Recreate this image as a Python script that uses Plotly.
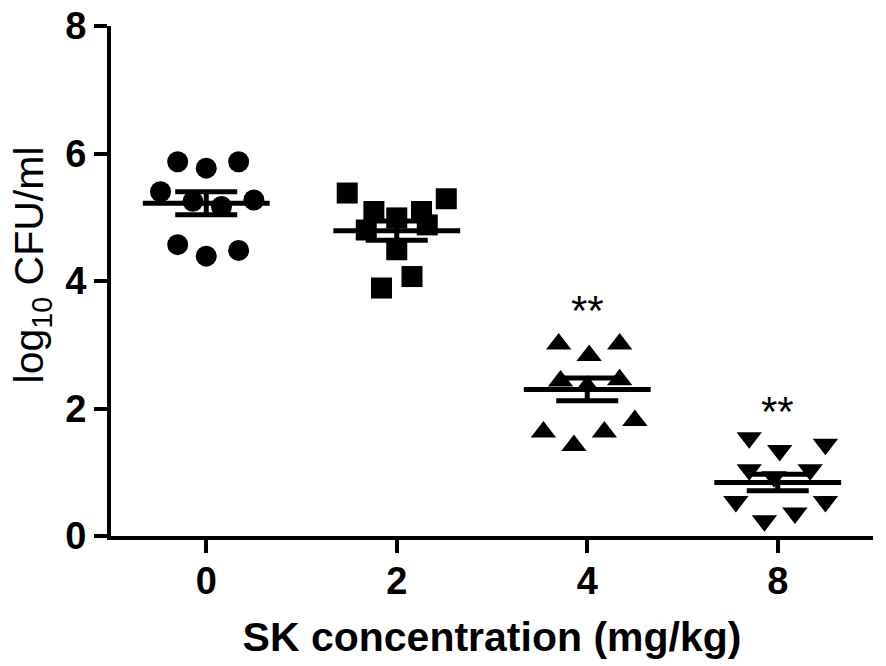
import plotly.graph_objects as go

# SK dose groups (mg/kg) and the marker used for each group
DOSES = ["0", "2", "4", "8"]
SYMBOLS = ["circle", "square", "triangle-up", "triangle-down"]

# individual animals, log10 CFU/ml
LOG_CFU_0 = [5.87, 5.77, 5.87, 5.40, 5.27, 5.25, 5.17, 4.57, 4.39, 4.48]
LOG_CFU_2 = [5.38, 5.29, 5.09, 4.99, 5.09, 4.80, 4.88, 4.49, 4.07, 3.89]
LOG_CFU_4 = [3.01, 2.83, 3.01, 2.45, 2.43, 2.35, 1.81, 1.63, 1.63, 1.42]
LOG_CFU_8 = [1.54, 1.34, 1.44, 1.04, 1.04, 0.93, 0.54, 0.54, 0.36, 0.24]

# horizontal scatter of each point inside its column (category units)
SPREAD_0 = [-0.15, 0.00, 0.17, -0.24, 0.25, -0.07, 0.08, -0.15, 0.00, 0.17]
SPREAD_2 = [-0.26, 0.26, -0.12, 0.00, 0.13, -0.16, 0.16, 0.00, 0.08, -0.08]
SPREAD_4 = [-0.15, 0.01, 0.17, 0.17, -0.14, 0.00, 0.25, -0.23, 0.09, -0.07]
SPREAD_8 = [-0.15, 0.01, 0.25, -0.15, 0.17, -0.02, -0.22, 0.25, 0.09, -0.07]

# group mean and SEM as drawn
MEANS = [5.22, 4.79, 2.30, 0.84]
SEMS = [0.18, 0.15, 0.18, 0.13]

# significance marks vs. control and the height they sit at
SIG_LABELS = ["", "", "**", "**"]
SIG_Y = [None, None, 3.54, 1.96]

FONT = "Liberation Sans, Arial, sans-serif"

groups = [LOG_CFU_0, LOG_CFU_2, LOG_CFU_4, LOG_CFU_8]
spreads = [SPREAD_0, SPREAD_2, SPREAD_4, SPREAD_8]

fig = go.Figure()

for i, (vals, offs) in enumerate(zip(groups, spreads)):
  fig.add_trace(
    go.Scatter(
      x=[i + o for o in offs],
      y=vals,
      mode="markers",
      marker=dict(symbol=SYMBOLS[i], size=21 if i < 2 else 22, color="black"),
      cliponaxis=False,
      showlegend=False,
    )
  )

half = 0.333
for i, (m, s) in enumerate(zip(MEANS, SEMS)):
  fig.add_trace(
    go.Scatter(
      x=[i - half, i + half],
      y=[m, m],
      mode="lines",
      line=dict(color="black", width=5),
      showlegend=False,
    )
  )
  fig.add_trace(
    go.Scatter(
      x=[i],
      y=[m],
      mode="markers",
      marker=dict(size=1, color="black"),
      error_y=dict(type="data", array=[s], width=31, thickness=5, color="black"),
      showlegend=False,
    )
  )

annotations = []
for i, (lab, ly) in enumerate(zip(SIG_LABELS, SIG_Y)):
  if lab:
    annotations.append(
      dict(
        x=i,
        y=ly,
        text=lab,
        showarrow=False,
        yanchor="middle",
        font=dict(family=FONT, size=42, color="black"),
      )
    )

annotations.append(
  dict(
    x=-0.104,
    y=0.532,
    xref="paper",
    yref="paper",
    text="log<sub>10</sub> CFU/ml",
    textangle=-90,
    showarrow=False,
    xanchor="center",
    yanchor="middle",
    font=dict(family=FONT, size=41, color="black"),
  )
)

axis_style = dict(
  showline=True,
  linewidth=4,
  linecolor="black",
  ticks="outside",
  ticklen=13,
  tickwidth=4,
  tickcolor="black",
  showgrid=False,
  zeroline=False,
  automargin=False,
  ticklabeloverflow="allow",
  tickfont=dict(family=FONT, size=38, color="black", weight="bold"),
)

fig.update_layout(
  width=886,
  height=666,
  margin=dict(l=103, r=21, t=18, b=138),
  paper_bgcolor="white",
  plot_bgcolor="white",
  font=dict(family=FONT, color="black"),
  xaxis=dict(
    range=[-0.5, 3.5],
    tickvals=[0, 1, 2, 3],
    ticktext=DOSES,
    ticklabelstandoff=-5,
    title=dict(
      text="SK concentration (mg/kg)",
      font=dict(family=FONT, size=41, color="black", weight="bold"),
      standoff=23,
    ),
    **axis_style,
  ),
  yaxis=dict(
    range=[0, 8],
    tickvals=[0, 2, 4, 6, 8],
    **axis_style,
  ),
  annotations=annotations,
)

fig.write_html("out.html")
